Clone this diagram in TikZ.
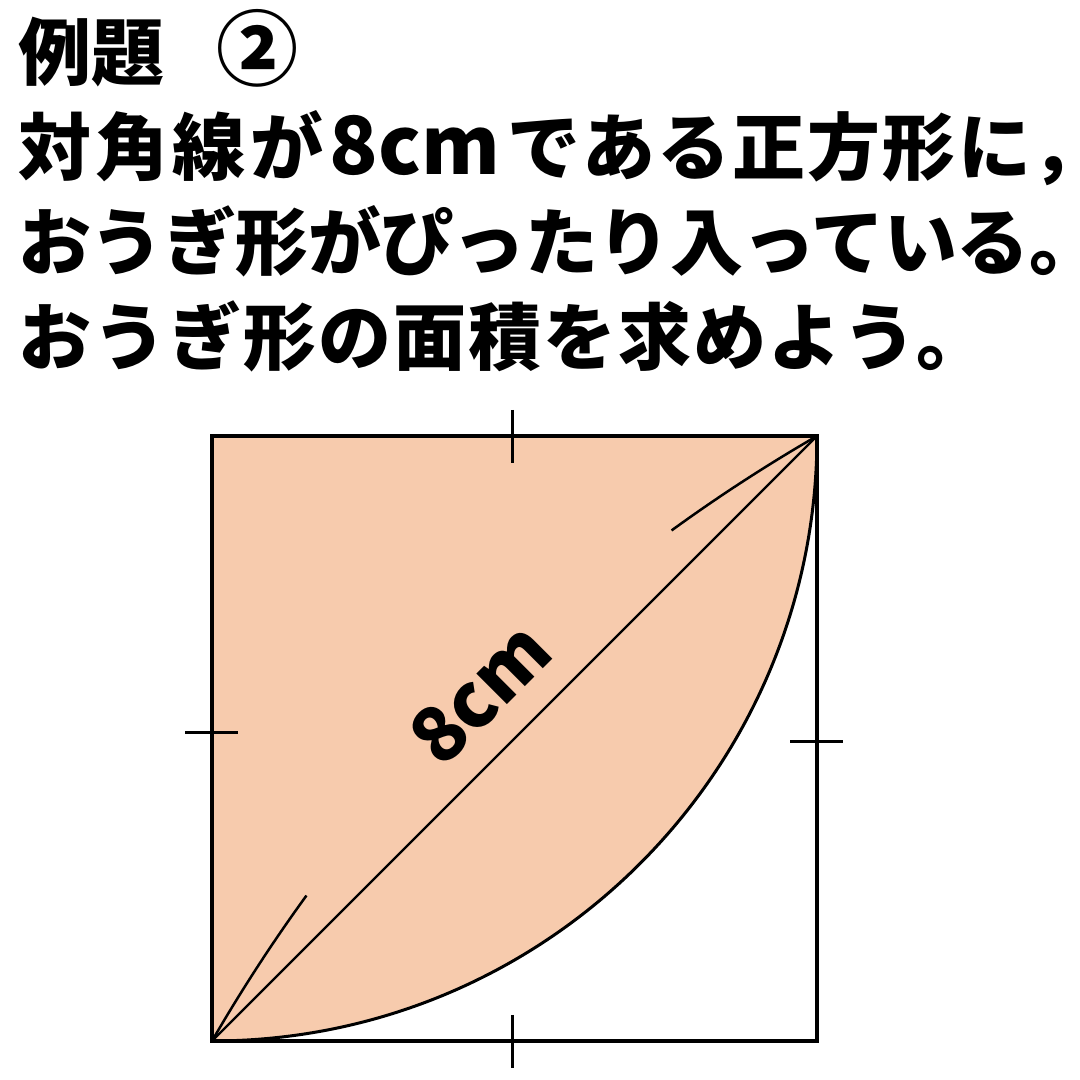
\documentclass[tikz,border=0pt]{standalone}
\usepackage{fontspec}
\setmainfont{Noto Sans CJK JP}
\usepackage{xcolor}
\usepackage{tikz}
\usetikzlibrary{positioning,calc}
\definecolor{sectorfill}{HTML}{F7CBAD}

\begin{document}
\begin{tikzpicture}[x=1pt,y=1pt,
    edge/.style={line width=3.5pt},
    tickmark/.style={line width=3pt},
    jtext/.style={anchor=base west,inner sep=0pt,font=\fontsize{73}{73}\selectfont\bfseries}]
    \useasboundingbox (0,0) rectangle (1080,1080);
    % corners of the square
    \coordinate (bl) at (212,39);
    \coordinate (br) at (817,39);
    \coordinate (tr) at (817,644);
    \coordinate (tl) at (212,644);
    % question
    \node[jtext] (title) at (18,1000) {例題\hspace{52pt}{\fontsize{82}{82}\selectfont ②}};
    \node[jtext] (line1) at (18,905) {{\addfontfeature{LetterSpace=6}対角線が}\hspace{6pt}{\fontsize{80}{80}\selectfont 8cm}\hspace{8pt}{\addfontfeature{LetterSpace=3}である正方形に\rlap{，}}};
    \node[jtext] (line2) at (18,810) {\addfontfeature{LetterSpace=-0.75}おうぎ形がぴったり入っている\rlap{。}};
    \node[jtext] (line3) at (18,715) {\addfontfeature{LetterSpace=2.8}おうぎ形の面積を求めよう\rlap{。}};
    % sector and square
    \filldraw[fill=sectorfill, line width=3pt] (tl) -- (tr) arc[start angle=0, end angle=-90, radius=605] -- cycle;
    \draw[edge] (bl) rectangle (tr);
    \draw[line width=2.2pt] (bl) -- (tr);
    % length of the diagonal
    \draw[line width=2.5pt] (bl) arc[start angle=150, end angle=144, radius=1657];
    \draw[line width=2.5pt] (tr) arc[start angle=120, end angle=126, radius=1657];
    \node[rotate=45, inner sep=0pt, font=\fontsize{76}{76}\selectfont\bfseries] (len) at (480,387) {8cm};
    % equal sides
    \draw[tickmark] (512,670) -- (512,617);
    \draw[tickmark] (512,65) -- (512,12);
    \draw[tickmark] (185,347) -- (238,347);
    \draw[tickmark] (790,338) -- (843,338);
\end{tikzpicture}
\end{document}
